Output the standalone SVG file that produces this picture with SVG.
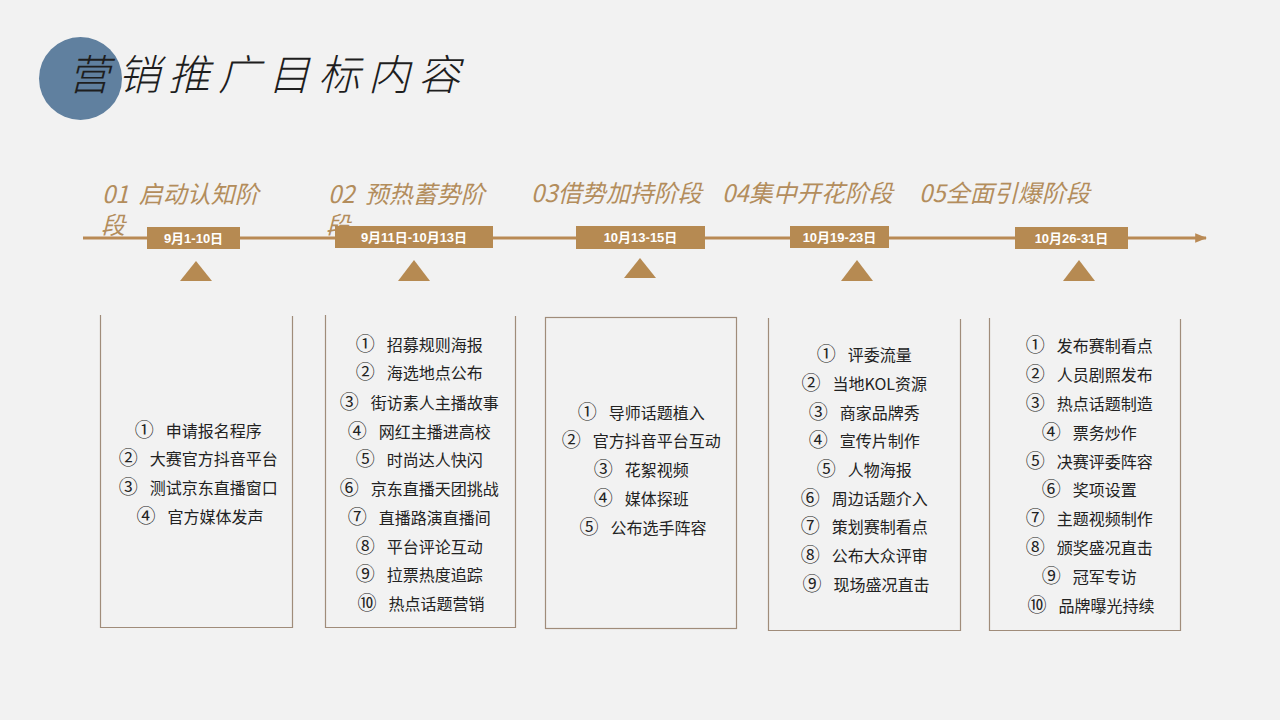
<svg xmlns="http://www.w3.org/2000/svg" width="1280" height="720" viewBox="0 0 1280 720">
<defs>
<marker id="arr" viewBox="0 0 10 10" refX="9" refY="5" markerWidth="4" markerHeight="4" orient="auto" markerUnits="strokeWidth">
<path d="M0,1 L10,5 L0,9 Z" fill="#B98A55"/>
</marker>
<style>
.ttl{font-family:"Noto Sans CJK SC","Liberation Serif",serif;font-style:italic;font-size:24px;fill:#B38D5C}
.date{font-family:"Liberation Sans","Noto Sans CJK SC",sans-serif;font-weight:bold;font-size:13px;fill:#FFFFFF}
.dbox{fill:#B68A52}
.tri{fill:#B68A52}
.box{fill:none;stroke:#A08C7A;stroke-width:1.2}
.item{font-family:"Noto Sans CJK SC","Liberation Sans",sans-serif;font-size:16px;fill:#222222}
.n{font-size:19px}
</style>
</defs>
<rect x="0" y="0" width="1280" height="720" fill="#F2F2F2"/>

<g id="header">
<circle cx="80.5" cy="78.5" r="41.5" fill="#60809F"/>
<text x="68" y="90" font-family="Noto Sans CJK SC, Liberation Serif, serif" font-style="italic" font-size="42" font-weight="300" letter-spacing="8" fill="#1E1E1E">营销推广目标内容</text>
</g>

<g id="connectors">
<line x1="83" y1="238" x2="1206" y2="238" stroke="#B98A55" stroke-width="3" marker-end="url(#arr)"/>
</g>

<g id="stage1">
<text class="ttl"><tspan x="102" y="203">01</tspan><tspan dx="10">启动认知阶</tspan><tspan x="101" y="234">段</tspan></text>
<rect class="dbox" x="147" y="227" width="93" height="22"/>
<text class="date" x="193.5" y="243" text-anchor="middle">9月1-10日</text>
<polygon class="tri" points="196,261 212,281 180,281"/>
<path class="box" d="M100.5,315 V627.5 H292.5 V316"/>
<text class="item" text-anchor="middle">
<tspan x="200" y="437"><tspan class="n">①</tspan><tspan dx="12">申请报名程序</tspan></tspan>
<tspan x="200" y="465"><tspan class="n">②</tspan><tspan dx="12">大赛官方抖音平台</tspan></tspan>
<tspan x="200" y="494"><tspan class="n">③</tspan><tspan dx="12">测试京东直播窗口</tspan></tspan>
<tspan x="200" y="523"><tspan class="n">④</tspan><tspan dx="12">官方媒体发声</tspan></tspan>
</text>
</g>

<g id="stage2">
<text class="ttl"><tspan x="328" y="203">02</tspan><tspan dx="10">预热蓄势阶</tspan><tspan x="326" y="234">段</tspan></text>
<rect class="dbox" x="335" y="226" width="158" height="22"/>
<text class="date" x="414" y="242" text-anchor="middle">9月11日-10月13日</text>
<polygon class="tri" points="414,260 430,281 398,281"/>
<path class="box" d="M325.5,315 V627.5 H515.5 V316"/>
<text class="item" text-anchor="middle">
<tspan x="421" y="351"><tspan class="n">①</tspan><tspan dx="12">招募规则海报</tspan></tspan>
<tspan x="421" y="379"><tspan class="n">②</tspan><tspan dx="12">海选地点公布</tspan></tspan>
<tspan x="421" y="409"><tspan class="n">③</tspan><tspan dx="12">街访素人主播故事</tspan></tspan>
<tspan x="421" y="438"><tspan class="n">④</tspan><tspan dx="12">网红主播进高校</tspan></tspan>
<tspan x="421" y="466"><tspan class="n">⑤</tspan><tspan dx="12">时尚达人快闪</tspan></tspan>
<tspan x="421" y="495"><tspan class="n">⑥</tspan><tspan dx="12">京东直播天团挑战</tspan></tspan>
<tspan x="421" y="524"><tspan class="n">⑦</tspan><tspan dx="12">直播路演直播间</tspan></tspan>
<tspan x="421" y="553"><tspan class="n">⑧</tspan><tspan dx="12">平台评论互动</tspan></tspan>
<tspan x="421" y="581"><tspan class="n">⑨</tspan><tspan dx="12">拉票热度追踪</tspan></tspan>
<tspan x="421" y="610"><tspan class="n">⑩</tspan><tspan dx="12">热点话题营销</tspan></tspan>
</text>
</g>

<g id="stage3">
<text class="ttl" x="531" y="202">03借势加持阶段</text>
<rect class="dbox" x="576" y="226" width="129" height="23"/>
<text class="date" x="640.5" y="242" text-anchor="middle">10月13-15日</text>
<polygon class="tri" points="640,258 656,278 624,278"/>
<rect class="box" x="545.5" y="317.5" width="191" height="311"/>
<text class="item" text-anchor="middle">
<tspan x="643" y="419"><tspan class="n">①</tspan><tspan dx="12">导师话题植入</tspan></tspan>
<tspan x="643" y="447"><tspan class="n">②</tspan><tspan dx="12">官方抖音平台互动</tspan></tspan>
<tspan x="643" y="476"><tspan class="n">③</tspan><tspan dx="12">花絮视频</tspan></tspan>
<tspan x="643" y="505"><tspan class="n">④</tspan><tspan dx="12">媒体探班</tspan></tspan>
<tspan x="643" y="534"><tspan class="n">⑤</tspan><tspan dx="12">公布选手阵容</tspan></tspan>
</text>
</g>

<g id="stage4">
<text class="ttl" x="722" y="202">04集中开花阶段</text>
<rect class="dbox" x="790" y="226" width="99" height="22"/>
<text class="date" x="839.5" y="242" text-anchor="middle">10月19-23日</text>
<polygon class="tri" points="857,260 873,281 841,281"/>
<path class="box" d="M768.5,318 V630.5 H960.5 V319"/>
<text class="item" text-anchor="middle">
<tspan x="866" y="361"><tspan class="n">①</tspan><tspan dx="12">评委流量</tspan></tspan>
<tspan x="866" y="390"><tspan class="n">②</tspan><tspan dx="12">当地KOL资源</tspan></tspan>
<tspan x="866" y="419"><tspan class="n">③</tspan><tspan dx="12">商家品牌秀</tspan></tspan>
<tspan x="866" y="447"><tspan class="n">④</tspan><tspan dx="12">宣传片制作</tspan></tspan>
<tspan x="866" y="476"><tspan class="n">⑤</tspan><tspan dx="12">人物海报</tspan></tspan>
<tspan x="866" y="505"><tspan class="n">⑥</tspan><tspan dx="12">周边话题介入</tspan></tspan>
<tspan x="866" y="533"><tspan class="n">⑦</tspan><tspan dx="12">策划赛制看点</tspan></tspan>
<tspan x="866" y="562"><tspan class="n">⑧</tspan><tspan dx="12">公布大众评审</tspan></tspan>
<tspan x="866" y="591"><tspan class="n">⑨</tspan><tspan dx="12">现场盛况直击</tspan></tspan>
</text>
</g>

<g id="stage5">
<text class="ttl" x="919" y="202">05全面引爆阶段</text>
<rect class="dbox" x="1015" y="227" width="113" height="22"/>
<text class="date" x="1071.5" y="243" text-anchor="middle">10月26-31日</text>
<polygon class="tri" points="1079,260 1095,281 1063,281"/>
<path class="box" d="M989.5,318 V630.5 H1180.5 V319"/>
<text class="item" text-anchor="middle">
<tspan x="1091" y="352"><tspan class="n">①</tspan><tspan dx="12">发布赛制看点</tspan></tspan>
<tspan x="1091" y="381"><tspan class="n">②</tspan><tspan dx="12">人员剧照发布</tspan></tspan>
<tspan x="1091" y="410"><tspan class="n">③</tspan><tspan dx="12">热点话题制造</tspan></tspan>
<tspan x="1091" y="439"><tspan class="n">④</tspan><tspan dx="12">票务炒作</tspan></tspan>
<tspan x="1091" y="468"><tspan class="n">⑤</tspan><tspan dx="12">决赛评委阵容</tspan></tspan>
<tspan x="1091" y="496"><tspan class="n">⑥</tspan><tspan dx="12">奖项设置</tspan></tspan>
<tspan x="1091" y="525"><tspan class="n">⑦</tspan><tspan dx="12">主题视频制作</tspan></tspan>
<tspan x="1091" y="554"><tspan class="n">⑧</tspan><tspan dx="12">颁奖盛况直击</tspan></tspan>
<tspan x="1091" y="583"><tspan class="n">⑨</tspan><tspan dx="12">冠军专访</tspan></tspan>
<tspan x="1091" y="612"><tspan class="n">⑩</tspan><tspan dx="12">品牌曝光持续</tspan></tspan>
</text>
</g>
</svg>
